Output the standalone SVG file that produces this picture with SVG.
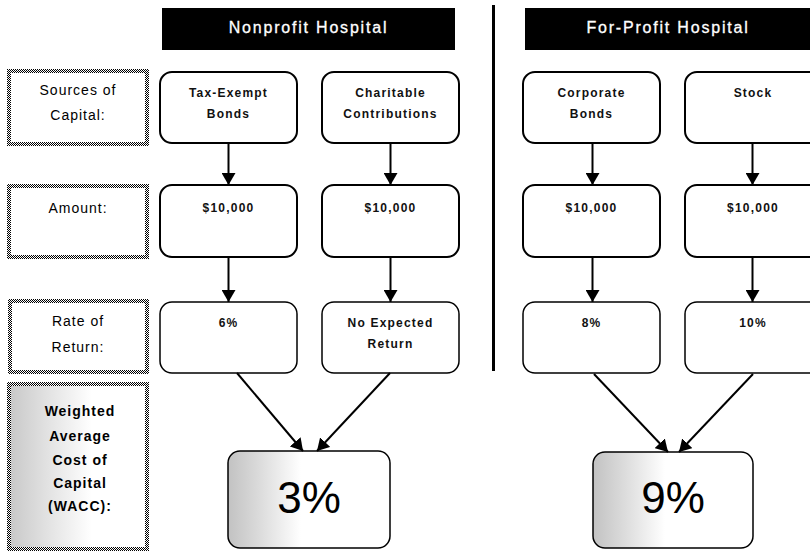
<svg xmlns="http://www.w3.org/2000/svg" width="810" height="552" viewBox="0 0 810 552">
<defs>
  <pattern id="dith" width="2" height="2" patternUnits="userSpaceOnUse">
    <rect width="2" height="2" fill="#ffffff"/>
    <rect x="0" y="0" width="1" height="1" fill="#000"/>
    <rect x="1" y="1" width="1" height="1" fill="#000"/>
  </pattern>
  <linearGradient id="gBox" x1="0" y1="0" x2="1" y2="0">
    <stop offset="0" stop-color="#c2c2c2"/>
    <stop offset="0.2" stop-color="#dcdcdc"/>
    <stop offset="0.45" stop-color="#ffffff"/>
    <stop offset="1" stop-color="#ffffff"/>
  </linearGradient>
  <linearGradient id="gLab" x1="0" y1="0" x2="1" y2="0">
    <stop offset="0" stop-color="#c8c8c8"/>
    <stop offset="0.3" stop-color="#e4e4e4"/>
    <stop offset="0.6" stop-color="#ffffff"/>
    <stop offset="1" stop-color="#ffffff"/>
  </linearGradient>
  <marker id="ah" viewBox="0 0 12 14" refX="12" refY="7" markerWidth="12" markerHeight="14" markerUnits="userSpaceOnUse" orient="auto">
    <path d="M0,0 L12,7 L0,14 Z" fill="#000"/>
  </marker>
</defs>
<style>
  .hdr { fill: #000; }
  .hdrt { font-family: "Liberation Sans", Arial, sans-serif; font-size: 16px; fill: #fff; letter-spacing: 1.8px; text-anchor: middle; stroke: #fff; stroke-width: 0.3; }
  .lab { fill: #fff; stroke: url(#dith); stroke-width: 4; }
  .labt { font-family: "Liberation Sans", Arial, sans-serif; font-size: 14px; fill: #000; letter-spacing: 1px; text-anchor: middle; }
  .labb { font-family: "Liberation Sans", Arial, sans-serif; font-size: 14px; font-weight: bold; fill: #000; letter-spacing: 1px; text-anchor: middle; }
  .node { fill: #fff; stroke: #000; stroke-width: 2; }
  .nodet { font-family: "Liberation Sans", Arial, sans-serif; font-size: 12px; font-weight: bold; fill: #111; letter-spacing: 1.2px; text-anchor: middle; }
  .big { fill: url(#gBox); stroke: #000; stroke-width: 1.5; }
  .bigt { font-family: "Liberation Sans", Arial, sans-serif; font-size: 44px; fill: #000; text-anchor: middle; }
  .conn { stroke: #000; stroke-width: 2; fill: none; marker-end: url(#ah); }
</style>

<g id="divider">
  <rect x="492" y="5" width="3" height="366" fill="#000"/>
</g>

<g id="header-nonprofit">
  <rect class="hdr" x="162" y="8" width="293" height="42"/>
  <text class="hdrt" x="308.5" y="33">Nonprofit Hospital</text>
</g>
<g id="header-forprofit">
  <rect class="hdr" x="525" y="8" width="290" height="42"/>
  <text class="hdrt" x="668" y="33">For-Profit Hospital</text>
</g>

<g id="label-sources">
  <rect class="lab" x="9" y="71" width="138" height="73"/>
  <text class="labt" x="78" y="95">Sources of</text>
  <text class="labt" x="78" y="120">Capital:</text>
</g>
<g id="label-amount">
  <rect class="lab" x="9" y="186" width="138" height="71"/>
  <text class="labt" x="78" y="213">Amount:</text>
</g>
<g id="label-rate">
  <rect class="lab" x="10" y="301" width="137" height="71"/>
  <text class="labt" x="78" y="326">Rate of</text>
  <text class="labt" x="78" y="352">Return:</text>
</g>
<g id="label-wacc">
  <rect class="lab" x="9" y="384" width="138" height="165" style="fill:url(#gLab)"/>
  <text class="labb" x="80" y="416">Weighted</text>
  <text class="labb" x="80" y="441">Average</text>
  <text class="labb" x="80" y="465">Cost of</text>
  <text class="labb" x="80" y="488">Capital</text>
  <text class="labb" x="80" y="511">(WACC):</text>
</g>

<g id="n-taxexempt">
  <rect class="node" x="160" y="72" width="137" height="71" rx="12"/>
  <text class="nodet" x="228.5" y="97">Tax-Exempt</text>
  <text class="nodet" x="228.5" y="118">Bonds</text>
</g>
<g id="n-charitable">
  <rect class="node" x="322" y="72" width="137" height="71" rx="12"/>
  <text class="nodet" x="390.5" y="97">Charitable</text>
  <text class="nodet" x="390.5" y="118">Contributions</text>
</g>
<g id="n-corporate">
  <rect class="node" x="523" y="72" width="137" height="71" rx="12"/>
  <text class="nodet" x="591.5" y="97">Corporate</text>
  <text class="nodet" x="591.5" y="118">Bonds</text>
</g>
<g id="n-stock">
  <rect class="node" x="685" y="72" width="137" height="71" rx="12"/>
  <text class="nodet" x="753" y="97">Stock</text>
</g>

<g id="n-amt1">
  <rect class="node" x="160" y="185" width="137" height="72" rx="12"/>
  <text class="nodet" x="228.5" y="212">$10,000</text>
</g>
<g id="n-amt2">
  <rect class="node" x="322" y="185" width="137" height="72" rx="12"/>
  <text class="nodet" x="390.5" y="212">$10,000</text>
</g>
<g id="n-amt3">
  <rect class="node" x="523" y="185" width="137" height="72" rx="12"/>
  <text class="nodet" x="591.5" y="212">$10,000</text>
</g>
<g id="n-amt4">
  <rect class="node" x="685" y="185" width="137" height="72" rx="12"/>
  <text class="nodet" x="753" y="212">$10,000</text>
</g>

<g id="n-rate1">
  <rect class="node" x="160" y="302" width="137" height="71" rx="12" style="stroke-width:1.5"/>
  <text class="nodet" x="228.5" y="327">6%</text>
</g>
<g id="n-rate2">
  <rect class="node" x="322" y="302" width="137" height="71" rx="12" style="stroke-width:1.5"/>
  <text class="nodet" x="390.5" y="327">No Expected</text>
  <text class="nodet" x="390.5" y="348">Return</text>
</g>
<g id="n-rate3">
  <rect class="node" x="523" y="302" width="137" height="71" rx="12" style="stroke-width:1.5"/>
  <text class="nodet" x="591.5" y="327">8%</text>
</g>
<g id="n-rate4">
  <rect class="node" x="685" y="302" width="137" height="71" rx="12" style="stroke-width:1.5"/>
  <text class="nodet" x="753" y="327">10%</text>
</g>

<g id="n-wacc-np">
  <rect class="big" x="228" y="451" width="162" height="97" rx="12"/>
  <text class="bigt" x="309" y="513">3%</text>
</g>
<g id="n-wacc-fp">
  <rect class="big" x="593" y="452" width="160" height="96" rx="12"/>
  <text class="bigt" x="673" y="513">9%</text>
</g>

<g id="connectors">
  <line class="conn" x1="228.5" y1="143" x2="228.5" y2="185"/>
  <line class="conn" x1="390.5" y1="143" x2="390.5" y2="185"/>
  <line class="conn" x1="592.5" y1="143" x2="592.5" y2="185"/>
  <line class="conn" x1="752.5" y1="143" x2="752.5" y2="185"/>
  <line class="conn" x1="228.5" y1="257" x2="228.5" y2="302"/>
  <line class="conn" x1="390.5" y1="257" x2="390.5" y2="302"/>
  <line class="conn" x1="592.5" y1="257" x2="592.5" y2="302"/>
  <line class="conn" x1="752.5" y1="257" x2="752.5" y2="302"/>
  <line class="conn" x1="237" y1="373" x2="303" y2="451"/>
  <line class="conn" x1="390" y1="373" x2="317" y2="451"/>
  <line class="conn" x1="594" y1="374" x2="668" y2="452"/>
  <line class="conn" x1="753" y1="374" x2="679" y2="452"/>
</g>
</svg>
